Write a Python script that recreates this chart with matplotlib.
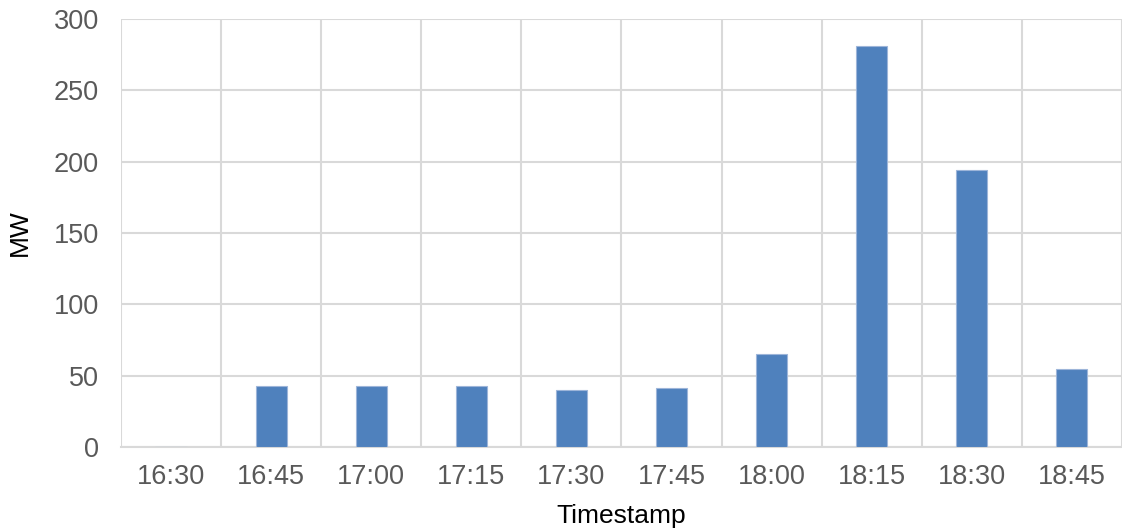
import numpy as np
import matplotlib
matplotlib.use("Agg")
import matplotlib.pyplot as plt

# MW per 15-minute interval
timestamps = ["16:30", "16:45", "17:00", "17:15", "17:30", "17:45", "18:00", "18:15", "18:30", "18:45"]
mw_values = [0, 43, 43, 43, 40, 41.5, 65.5, 281, 194, 55]
y_ticks = [0, 50, 100, 150, 200, 250, 300]

plt.rcParams['font.family'] = ['Liberation Sans', 'DejaVu Sans']

fig = plt.figure(figsize=(11.22, 5.31), dpi=100)
ax = fig.add_axes([0.1078, 0.158, 0.8922, 0.806])

x = np.arange(len(timestamps))
ax.bar(x, mw_values, width=0.31, color='#4f81bd', edgecolor='#9db5d9', linewidth=0.8, zorder=3)

ax.set_xlim(-0.5, len(timestamps) - 0.5)
ax.set_ylim(0, 300)
ax.set_yticks(y_ticks)
ax.set_xticks(x)
ax.set_xticklabels(timestamps)

# vertical grid lines sit on the category boundaries
ax.set_xticks(np.arange(-0.5, len(timestamps)), minor=True)
ax.grid(True, axis='y', color='#d9d9d9', linewidth=1.5, zorder=0)
ax.grid(True, axis='x', which='minor', color='#d9d9d9', linewidth=1.5, zorder=0)
ax.grid(False, axis='x', which='major')

for side in ['top', 'right', 'left']:
    ax.spines[side].set_visible(False)
ax.spines['bottom'].set_color('#d9d9d9')
ax.spines['bottom'].set_linewidth(1.5)

ax.tick_params(axis='both', which='both', length=0, labelsize=19.5, labelcolor='#595959')
ax.tick_params(axis='x', pad=12)
ax.tick_params(axis='y', pad=16)

ax.set_xlabel('Timestamp', fontsize=19, color='black')
ax.set_ylabel('MW', fontsize=19, color='black')
ax.xaxis.set_label_coords(0.5, -0.133)
ax.yaxis.set_label_coords(-0.089, 0.5)

fig.savefig('out.png', dpi=100)
